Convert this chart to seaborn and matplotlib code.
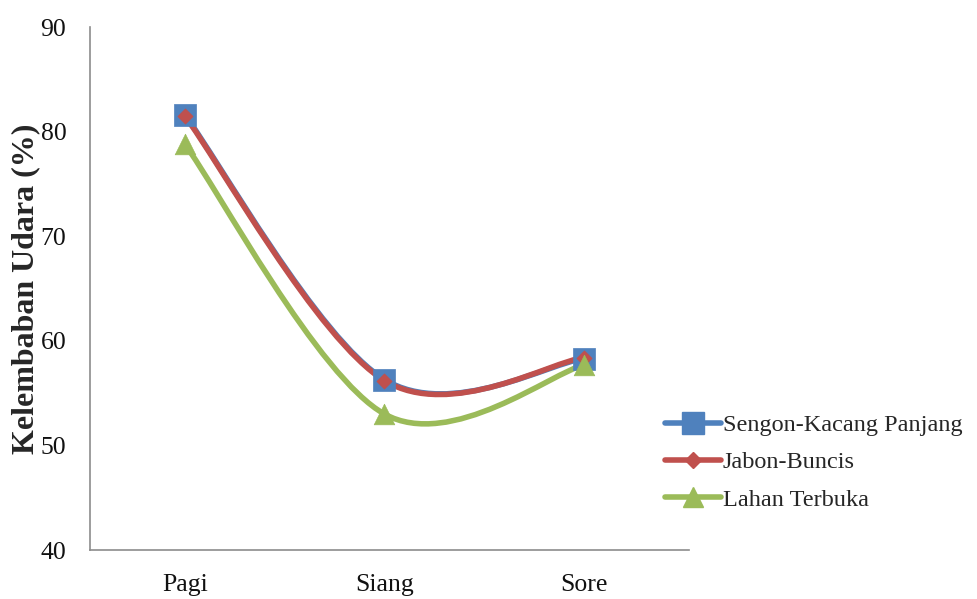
import numpy as np
import pandas as pd
import matplotlib
matplotlib.use("Agg")
import matplotlib.pyplot as plt
from matplotlib.path import Path
from matplotlib.patches import PathPatch
from matplotlib.lines import Line2D
import seaborn as sns

waktu = ["Pagi", "Siang", "Sore"]
sengon_kacang = [81.6, 56.3, 58.3]
jabon_buncis = [81.5, 56.2, 58.4]
lahan_terbuka = [78.8, 53.0, 57.7]

series_names = ["Sengon-Kacang Panjang", "Jabon-Buncis", "Lahan Terbuka"]
series_values = [sengon_kacang, jabon_buncis, lahan_terbuka]
colors = ["#4F81BD", "#C0504D", "#9BBB59"]
markers = ["s", "D", "^"]
marker_sizes = [240, 60, 220]

df = pd.DataFrame(
    [(w, i, n, v) for n, vals in zip(series_names, series_values)
     for i, (w, v) in enumerate(zip(waktu, vals))],
    columns=["Waktu", "pos", "Seri", "Kelembaban"],
)

sns.set_style("white")
plt.rcParams["font.family"] = ["Liberation Serif", "DejaVu Serif"]

fig = plt.figure(figsize=(9.78, 5.99), dpi=100)
ax = fig.add_axes([0.092, 0.0818, 0.6125, 0.873])


def smooth_path(xs, ys):
    """Catmull-Rom style Bezier segments through the data points."""
    pts = np.column_stack([xs, ys]).astype(float)
    ext = np.vstack([pts[0], pts, pts[-1]])
    verts = [tuple(pts[0])]
    codes = [Path.MOVETO]
    for k in range(len(pts) - 1):
        p0, p1, p2, p3 = ext[k], ext[k + 1], ext[k + 2], ext[k + 3]
        c1 = p1 + (p2 - p0) / 6.0
        c2 = p2 - (p3 - p1) / 6.0
        verts += [tuple(c1), tuple(c2), tuple(p2)]
        codes += [Path.CURVE4] * 3
    return Path(verts, codes)


for name, col, mk, ms in zip(series_names, colors, markers, marker_sizes):
    sub = df[df["Seri"] == name]
    patch = PathPatch(smooth_path(sub["pos"], sub["Kelembaban"]),
                      facecolor="none", edgecolor=col, lw=4.0,
                      capstyle="round", joinstyle="round", zorder=2)
    ax.add_patch(patch)
    sns.scatterplot(data=sub, x="pos", y="Kelembaban", color=col, marker=mk,
                    s=ms, edgecolor=col, linewidth=0.5, ax=ax, zorder=3,
                    legend=False)

ax.set_xlim(-0.475, 2.525)
ax.set_ylim(40, 90)
ax.set_xticks(range(len(waktu)))
ax.set_xticklabels(waktu)
ax.set_yticks(range(40, 91, 10))
ax.tick_params(axis="both", length=0, labelsize=18.5, colors="#111111")
ax.tick_params(axis="x", pad=17)
ax.tick_params(axis="y", pad=17)
ax.set_xlabel("")
ax.set_ylabel("Kelembaban Udara (%)", fontsize=23, fontweight="bold",
              labelpad=0)

for side in ["top", "right"]:
    ax.spines[side].set_visible(False)
for side in ["left", "bottom"]:
    ax.spines[side].set_color("#8C8C8C")
    ax.spines[side].set_linewidth(1.2)

handles = [
    Line2D([], [], color=c, lw=4.0, marker=m,
           markersize=np.sqrt(s) * 1.0, markeredgecolor=c)
    for c, m, s in zip(colors, markers, marker_sizes)
]
fig.legend(handles, series_names, loc="center left",
           bbox_to_anchor=(0.68, 0.228), frameon=False, fontsize=17.5,
           handlelength=2.3, handletextpad=0.08, labelspacing=0.62,
           borderpad=0, borderaxespad=0)

fig.savefig("out.png", dpi=100)
